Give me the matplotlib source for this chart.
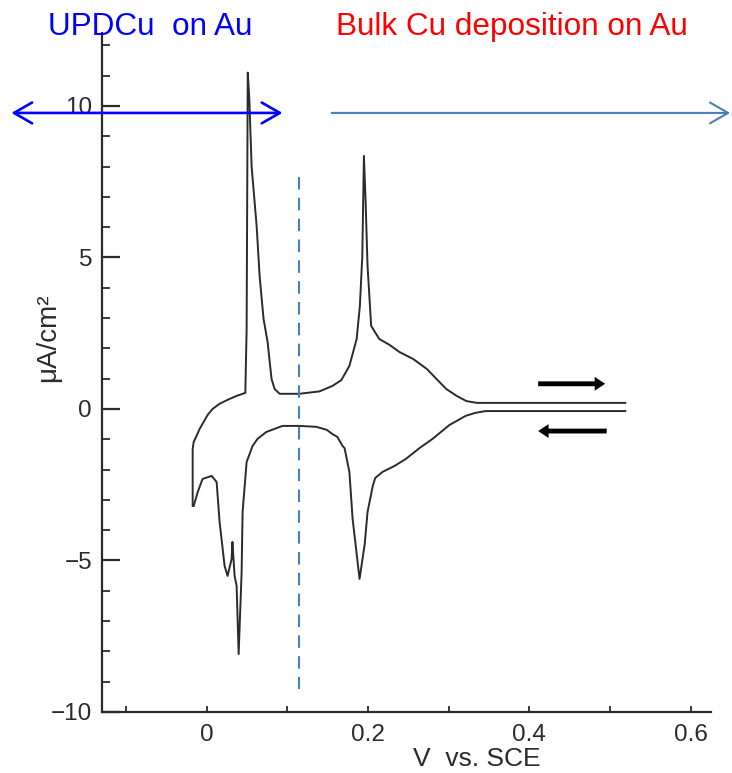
import matplotlib.pyplot as plt
import numpy as np

# anodic sweep (upper branch, -0.02 V -> 0.52 V)
v_anodic = [-0.0173, -0.0173, -0.016, -0.012, -0.0087, -0.0037, 0.0012, 0.0074,
            0.016, 0.026, 0.037, 0.048, 0.0496, 0.051, 0.053, 0.0558, 0.062,
            0.0657, 0.0706, 0.0756, 0.0805, 0.0843, 0.0905, 0.115, 0.140, 0.156,
            0.167, 0.177, 0.186, 0.190, 0.193, 0.195, 0.197, 0.1995, 0.204,
            0.214, 0.227, 0.239, 0.256, 0.273, 0.285, 0.297, 0.310, 0.322,
            0.335, 0.347, 0.519]
i_anodic = [-3.20, -1.32, -1.09, -0.86, -0.66, -0.43, -0.20, 0.0,
            0.17, 0.30, 0.43, 0.53, 2.64, 11.1, 10.2, 8.0, 6.04,
            4.39, 2.97, 2.21, 0.99, 0.66, 0.50, 0.50, 0.58, 0.76,
            0.95, 1.42, 2.31, 3.40, 5.05, 8.35, 6.93, 4.72, 2.74,
            2.31, 2.11, 1.88, 1.65, 1.32, 0.99, 0.66, 0.43, 0.26,
            0.20, 0.20, 0.20]

# cathodic sweep (lower branch, 0.52 V -> -0.02 V)
v_cathodic = [0.519, 0.346, 0.333, 0.321, 0.301, 0.280, 0.264, 0.247, 0.233,
              0.218, 0.209, 0.206, 0.1995, 0.196, 0.1896, 0.1846, 0.181, 0.177,
              0.171, 0.1685, 0.162, 0.156, 0.149, 0.136, 0.115, 0.103, 0.094,
              0.087, 0.074, 0.063, 0.057, 0.0496, 0.0446, 0.0434, 0.0397,
              0.0372, 0.0347, 0.032, 0.031, 0.026, 0.0223, 0.0161, 0.0124,
              0.0062, -0.005, -0.011, -0.016]
i_cathodic = [-0.07, -0.07, -0.13, -0.23, -0.53, -0.99, -1.29, -1.65, -1.88,
              -2.08, -2.28, -2.54, -3.40, -4.46, -5.61, -4.46, -3.63, -2.08,
              -1.29, -1.22, -0.92, -0.83, -0.69, -0.59, -0.56, -0.56, -0.56,
              -0.63, -0.76, -0.99, -1.22, -1.75, -3.40, -5.38, -8.09,
              -5.84, -5.51, -4.39, -4.95, -5.51, -5.18, -3.73, -2.41,
              -2.21, -2.31, -2.74, -3.20]

upd_limit = 0.115  # boundary UPD / bulk deposition
steel = '#4A7EBB'
ink = '#2b2b2b'

plt.rcParams['font.family'] = ['Liberation Sans', 'DejaVu Sans']

fig = plt.figure(figsize=(7.32, 7.73), dpi=100)
ax = fig.add_axes([0.139, 0.079, 0.832, 0.878])

ax.plot(v_anodic, i_anodic, color=ink, lw=1.4)
ax.plot(v_cathodic, i_cathodic, color=ink, lw=1.4)

ax.set_xlim(-0.13, 0.625)
ax.set_ylim(-10, 12.4)
ax.spines['top'].set_visible(False)
ax.spines['right'].set_visible(False)
for s in ['left', 'bottom']:
    ax.spines[s].set_linewidth(1.6)
    ax.spines[s].set_color(ink)

ax.set_xticks([0, 0.2, 0.4, 0.6])
ax.set_xticklabels(['0', '0.2', '0.4', '0.6'])
ax.set_xticks([-0.1, 0.1, 0.3, 0.5], minor=True)
ax.set_yticks([-10, -5, 0, 5, 10])
ax.set_yticklabels(['\u221210', '\u22125', '0', '5', '10'])
ax.set_yticks(np.arange(-9, 13, 1), minor=True)
ax.tick_params(axis='y', which='major', direction='in', length=13, width=1.6,
               color=ink, labelsize=17.5, labelcolor=ink, pad=7)
ax.tick_params(axis='y', which='minor', direction='in', length=6, width=1.3, color=ink)
ax.tick_params(axis='x', which='both', direction='in', length=4, width=1.3,
               color=ink, labelsize=17.5, labelcolor=ink, pad=9)

ax.set_ylabel('\u03bcA/cm\u00b2', fontsize=20, color=ink)
ax.yaxis.set_label_coords(-0.066, 0.552)
ax.text(0.335, -0.069, 'V  vs. SCE', fontsize=19, color=ink,
        transform=ax.get_xaxis_transform(), ha='center', va='center')

# UPD / bulk boundary
ax.plot([upd_limit, upd_limit], [7.66, -9.24], color=steel, lw=1.5,
        dashes=(6, 4))

# region arrows
ax.annotate('', xy=(-0.242, 9.77), xytext=(0.094, 9.77), annotation_clip=False,
            arrowprops=dict(arrowstyle='<->,head_length=1.3,head_width=0.75',
                            color='#0000FF', lw=1.9, mutation_scale=10,
                            shrinkA=0, shrinkB=0))
ax.annotate('', xy=(0.649, 9.77), xytext=(0.155, 9.77), annotation_clip=False,
            arrowprops=dict(arrowstyle='->,head_length=1.3,head_width=0.75',
                            color=steel, lw=1.5, mutation_scale=10,
                            shrinkA=0, shrinkB=0))

# sweep direction arrows
ax.annotate('', xy=(0.494, 0.83), xytext=(0.411, 0.83),
            arrowprops=dict(arrowstyle='simple,head_length=0.75,head_width=1.0,tail_width=0.35',
                            fc='black', ec='none', mutation_scale=10,
                            shrinkA=0, shrinkB=0))
ax.annotate('', xy=(0.411, -0.73), xytext=(0.496, -0.73),
            arrowprops=dict(arrowstyle='simple,head_length=0.75,head_width=1.0,tail_width=0.35',
                            fc='black', ec='none', mutation_scale=10,
                            shrinkA=0, shrinkB=0))

fig.text(0.0656, 0.9547, 'UPDCu  on Au', color='#0000FF', fontsize=22.7,
         ha='left', va='baseline')
fig.text(0.459, 0.9547, 'Bulk Cu deposition on Au', color='#FF0000', fontsize=22.7,
         ha='left', va='baseline')

fig.savefig('out.png', dpi=100)
